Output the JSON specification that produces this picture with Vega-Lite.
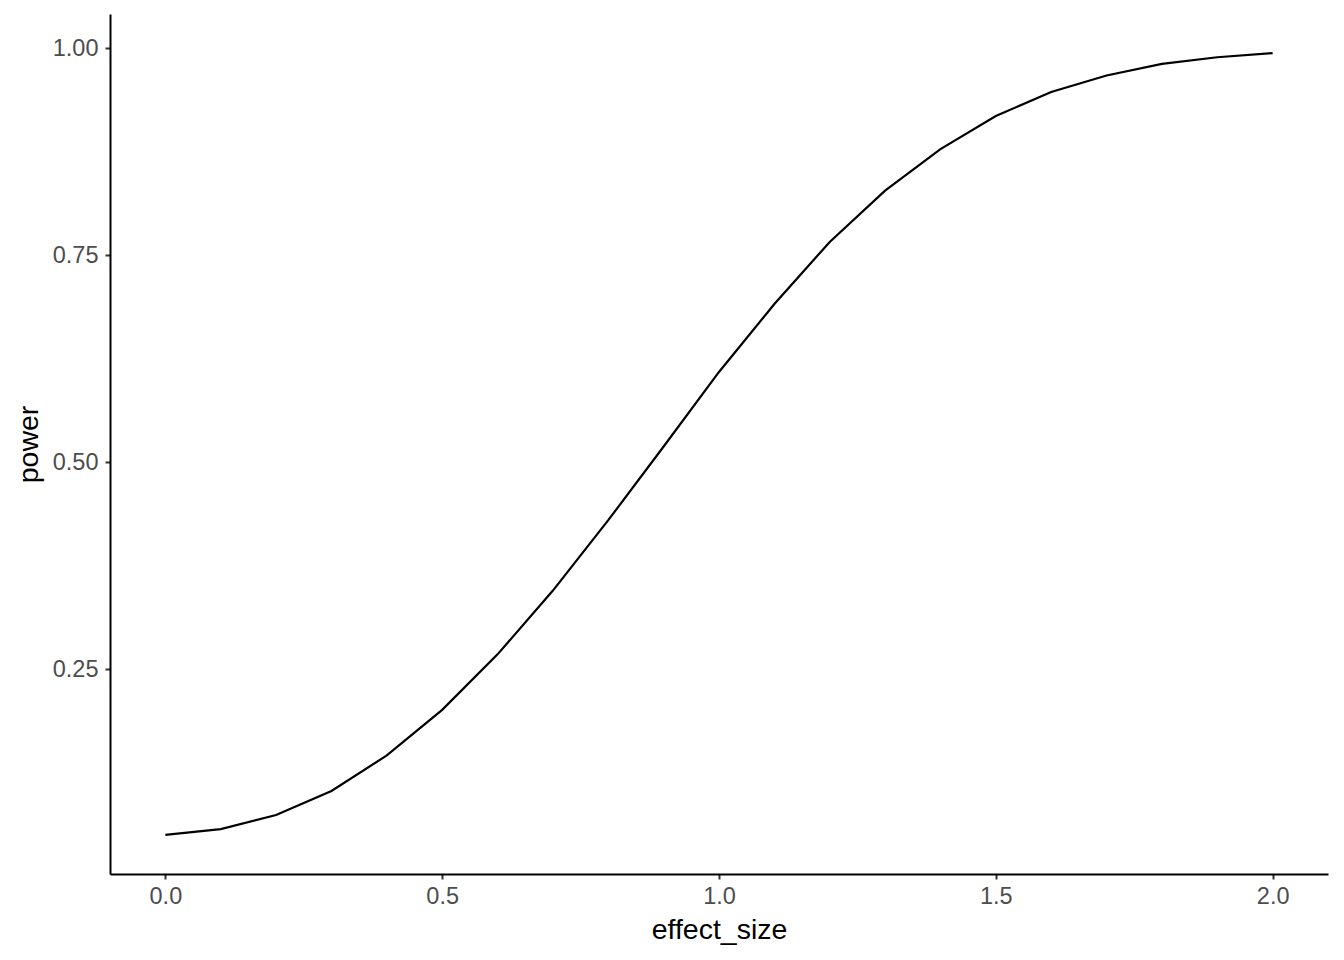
{
  "$schema": "https://vega.github.io/schema/vega-lite/v6.json",
  "autosize": {"type": "none"},
  "width": 1218,
  "height": 860,
  "padding": {"left": 110, "top": 14, "right": 16, "bottom": 86},
  "background": "white",
  "config": {
    "view": {"stroke": null},
    "font": "Liberation Sans"
  },
  "data": {
    "values": [
      {"effect_size": 0.0, "power": 0.050},
      {"effect_size": 0.1, "power": 0.057},
      {"effect_size": 0.2, "power": 0.074},
      {"effect_size": 0.3, "power": 0.103},
      {"effect_size": 0.4, "power": 0.146},
      {"effect_size": 0.5, "power": 0.201},
      {"effect_size": 0.6, "power": 0.268},
      {"effect_size": 0.7, "power": 0.345},
      {"effect_size": 0.8, "power": 0.430},
      {"effect_size": 0.9, "power": 0.519},
      {"effect_size": 1.0, "power": 0.609},
      {"effect_size": 1.1, "power": 0.691},
      {"effect_size": 1.2, "power": 0.766},
      {"effect_size": 1.3, "power": 0.828},
      {"effect_size": 1.4, "power": 0.878},
      {"effect_size": 1.5, "power": 0.918},
      {"effect_size": 1.6, "power": 0.947},
      {"effect_size": 1.7, "power": 0.967},
      {"effect_size": 1.8, "power": 0.981},
      {"effect_size": 1.9, "power": 0.989},
      {"effect_size": 2.0, "power": 0.994}
    ]
  },
  "mark": {"type": "line", "color": "black", "strokeWidth": 2.2},
  "encoding": {
    "x": {
      "field": "effect_size",
      "type": "quantitative",
      "scale": {"domain": [-0.1, 2.1], "nice": false, "zero": false},
      "axis": {
        "values": [0, 0.5, 1, 1.5, 2], "format": ".1f", "title": "effect_size",
        "grid": false, "domainColor": "black", "domainWidth": 2,
        "tickColor": "#333333", "tickWidth": 2, "tickSize": 5,
        "labelColor": "#4D4D4D", "labelFontSize": 23.5, "labelFont": "Liberation Sans", "labelPadding": 5,
        "titleFont": "Liberation Sans", "titleFontSize": 28.5, "titleFontWeight": "normal", "titleColor": "black", "titlePadding": 8
      }
    },
    "y": {
      "field": "power",
      "type": "quantitative",
      "scale": {"domain": [0.0028, 1.0412], "nice": false, "zero": false},
      "axis": {
        "values": [0.25, 0.5, 0.75, 1.0], "format": ".2f", "title": "power",
        "grid": false, "domainColor": "black", "domainWidth": 2,
        "tickColor": "#333333", "tickWidth": 2, "tickSize": 5,
        "labelColor": "#4D4D4D", "labelFontSize": 23.5, "labelFont": "Liberation Sans", "labelPadding": 7,
        "titleFont": "Liberation Sans", "titleFontSize": 28.5, "titleFontWeight": "normal", "titleColor": "black", "titlePadding": 9
      }
    }
  }
}
